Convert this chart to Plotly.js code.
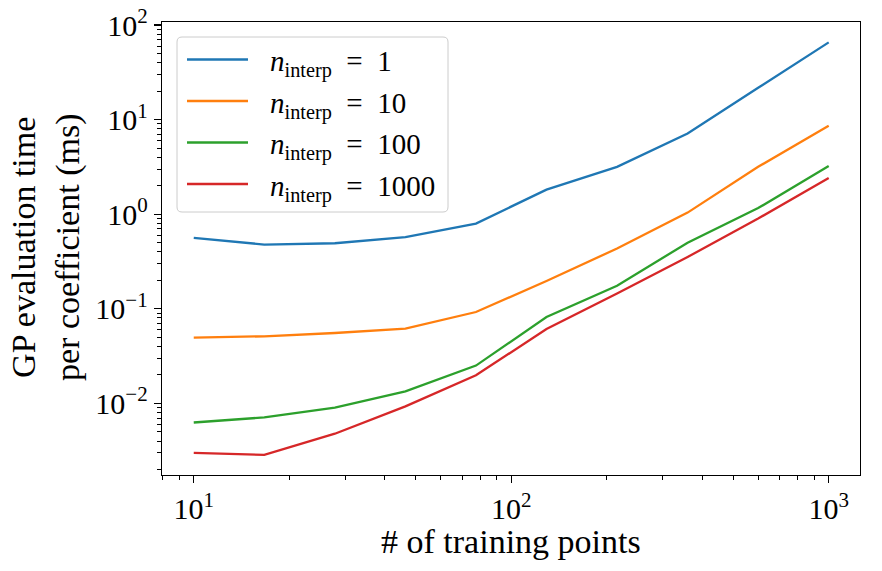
<!DOCTYPE html>
<html>
<head>
<meta charset="utf-8">
<script src="https://cdn.plot.ly/plotly-3.0.1.min.js"></script>
<style>
  html, body { margin: 0; padding: 0; background: #fff; }
  #chart { width: 882px; height: 571px; }
</style>
</head>
<body>
<div id="chart"></div>
<script>
// Number of training points used to fit the GP
const trainingPoints = [10, 16.68, 27.83, 46.42, 77.43, 129.15, 215.44, 359.38, 599.48, 1000];

// Evaluation time per coefficient (ms) for each interpolation count
const timeInterp1    = [0.561, 0.478, 0.493, 0.571, 0.797, 1.82, 3.17, 7.14, 21.7, 65.6];
const timeInterp10   = [0.0496, 0.0512, 0.0555, 0.0616, 0.0925, 0.197, 0.434, 1.04, 3.17, 8.6];
const timeInterp100  = [0.00628, 0.00711, 0.0090, 0.0134, 0.0251, 0.0818, 0.175, 0.50, 1.16, 3.24];
const timeInterp1000 = [0.00300, 0.00286, 0.00478, 0.0093, 0.0198, 0.0611, 0.145, 0.353, 0.90, 2.42];

const seriesLabels = [
  '<i>n</i><sub>interp</sub>\u2002=\u20021',
  '<i>n</i><sub>interp</sub>\u2002=\u200210',
  '<i>n</i><sub>interp</sub>\u2002=\u2002100',
  '<i>n</i><sub>interp</sub>\u2002=\u20021000'
];

const xTickVals = [10, 100, 1000];
const xTickText = ['10<sup>1</sup>', '10<sup>2</sup>', '10<sup>3</sup>'];
const yTickVals = [0.01, 0.1, 1, 10, 100];
const yTickText = ['10<sup>\u22122</sup>', '10<sup>\u22121</sup>', '10<sup>0</sup>', '10<sup>1</sup>', '10<sup>2</sup>'];

// ---- styling ----
const colors = ['#1f77b4', '#ff7f0e', '#2ca02c', '#d62728'];
const FONT = '"Liberation Serif", "DejaVu Serif", serif';
const W = 882, H = 571;
const M = { l: 162, r: 22, t: 22, b: 96 };
const plotW = W - M.l - M.r, plotH = H - M.t - M.b;
// pixel -> paper helpers for the hand-placed legend and labels
const px = x => (x - M.l) / plotW;
const py = y => (H - M.b - y) / plotH;

// minor tick positions (2..9 x each decade)
function minorTicks(lo, hi) {
  const out = [];
  for (let e = lo; e <= hi; e++) {
    for (let m = 2; m <= 9; m++) out.push(m * Math.pow(10, e));
  }
  return out;
}

const series = [timeInterp1, timeInterp10, timeInterp100, timeInterp1000];
const traces = series.map((ys, i) => ({
  type: 'scatter',
  mode: 'lines',
  x: trainingPoints,
  y: ys,
  name: seriesLabels[i],
  line: { color: colors[i], width: 2.3 },
  showlegend: false,
  hoverinfo: 'x+y'
}));

const axisCommon = {
  type: 'log',
  showgrid: false,
  zeroline: false,
  showline: true,
  linecolor: '#000',
  linewidth: 1.3,
  mirror: true,
  ticks: 'outside',
  ticklen: 7,
  tickwidth: 1.2,
  tickcolor: '#000',
  tickfont: { family: FONT, size: 30, color: '#000' }
};

// Legend: rounded frame, line samples and labels
const shapes = [];
const annotations = [];
const lgX0 = 177, lgX1 = 448, lgY0 = 37, lgY1 = 212, rad = 5;
const rx = rad / plotW, ry = rad / plotH;
const X0 = px(lgX0), X1 = px(lgX1), Y0 = py(lgY0), Y1 = py(lgY1);
shapes.push({
  type: 'path', xref: 'paper', yref: 'paper',
  path: `M ${X0 + rx},${Y0} L ${X1 - rx},${Y0} Q ${X1},${Y0} ${X1},${Y0 - ry} ` +
        `L ${X1},${Y1 + ry} Q ${X1},${Y1} ${X1 - rx},${Y1} ` +
        `L ${X0 + rx},${Y1} Q ${X0},${Y1} ${X0},${Y1 + ry} ` +
        `L ${X0},${Y0 - ry} Q ${X0},${Y0} ${X0 + rx},${Y0} Z`,
  fillcolor: 'rgba(255,255,255,0.8)',
  line: { color: '#cccccc', width: 1 },
  layer: 'above'
});
const rowY = [59.5, 101, 142.5, 184];
seriesLabels.forEach((lab, i) => {
  shapes.push({
    type: 'line', xref: 'paper', yref: 'paper',
    x0: px(187), x1: px(248), y0: py(rowY[i]), y1: py(rowY[i]),
    line: { color: colors[i], width: 2.3 },
    layer: 'above'
  });
  annotations.push({
    xref: 'paper', yref: 'paper',
    x: px(268), y: py(rowY[i] + 4),
    xanchor: 'left', yanchor: 'middle',
    text: lab, showarrow: false,
    font: { family: FONT, size: 29, color: '#000' }
  });
});

// Axis titles
annotations.push({
  xref: 'paper', yref: 'paper',
  x: px(511), y: py(541),
  xanchor: 'center', yanchor: 'middle',
  text: '# of training points', showarrow: false,
  font: { family: FONT, size: 34, color: '#000' }
});
annotations.push({
  xref: 'paper', yref: 'paper',
  x: px(46), y: py(248),
  xanchor: 'center', yanchor: 'middle',
  textangle: -90,
  text: 'GP evaluation time<br>per coefficient (ms)', showarrow: false,
  font: { family: FONT, size: 34, color: '#000' }
});

const layout = {
  width: W, height: H,
  margin: M,
  paper_bgcolor: '#fff',
  plot_bgcolor: '#fff',
  showlegend: false,
  xaxis: Object.assign({}, axisCommon, {
    range: [0.9, 3.0986],
    tickvals: xTickVals, ticktext: xTickText,
    minor: { tickvals: minorTicks(0, 3), ticks: 'outside', ticklen: 4, tickwidth: 1, tickcolor: '#000', showgrid: false }
  }),
  yaxis: Object.assign({}, axisCommon, {
    range: [-2.757, 2.032],
    tickvals: yTickVals, ticktext: yTickText,
    minor: { tickvals: minorTicks(-3, 2), ticks: 'outside', ticklen: 4, tickwidth: 1, tickcolor: '#000', showgrid: false }
  }),
  shapes: shapes,
  annotations: annotations
};

Plotly.newPlot('chart', traces, layout, { displayModeBar: false, staticPlot: true });
</script>
</body>
</html>
